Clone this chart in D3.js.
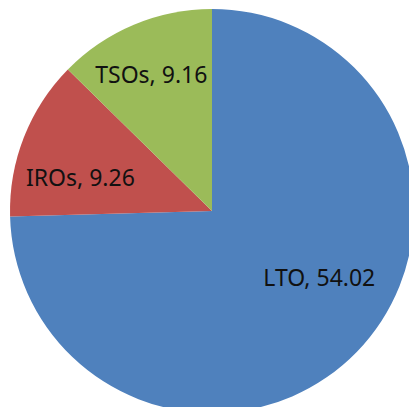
<!DOCTYPE html>
<html>
<head>
<meta charset="utf-8">
<script src="https://cdn.jsdelivr.net/npm/d3@7"></script>
<style>
  html, body { margin: 0; padding: 0; background: #fff; }
  svg { display: block; }
</style>
</head>
<body>
<div class="chart"></div>
<script>
// Data
var categories = ["LTO", "IROs", "TSOs"];
var values = [54.02, 9.26, 9.16];
var colors = ["#4F81BD", "#C0504D", "#9BBB59"];

// Chart setup
var svgWidth = 409;
var svgHeight = 407;
var cx = 212, cy = 211;
var radius = 202;

// small layout tweaks to sit the labels where the original puts them
var labelRadius = radius * 0.7;
var labelShift = [[6, -32], [0, 18], [-6, -6]];

var svg = d3.select(".chart")
  .append("svg")
  .attr("width", svgWidth)
  .attr("height", svgHeight);

var chart = svg.append("g")
  .attr("transform", "translate(" + cx + "," + cy + ")");

var pie = d3.pie().sort(null).value(function(d) { return d; });
var arcs = pie(values);

var arc = d3.arc().innerRadius(0).outerRadius(radius);
var labelArc = d3.arc().innerRadius(labelRadius).outerRadius(labelRadius);

chart.selectAll("path")
  .data(arcs)
  .enter()
  .append("path")
  .attr("d", arc)
  .attr("fill", function(d, i) { return colors[i]; });

chart.selectAll("text")
  .data(arcs)
  .enter()
  .append("text")
  .attr("transform", function(d, i) {
    var c = labelArc.centroid(d);
    return "translate(" + (c[0] + labelShift[i][0]) + "," + (c[1] + labelShift[i][1]) + ")";
  })
  .attr("dy", "0.36em")
  .style("text-anchor", "middle")
  .style("font-family", "'Noto Sans', sans-serif")
  .style("font-size", "23px")
  .style("fill", "#111")
  .text(function(d, i) { return categories[i] + ", " + values[i].toFixed(2); });
</script>
</body>
</html>
